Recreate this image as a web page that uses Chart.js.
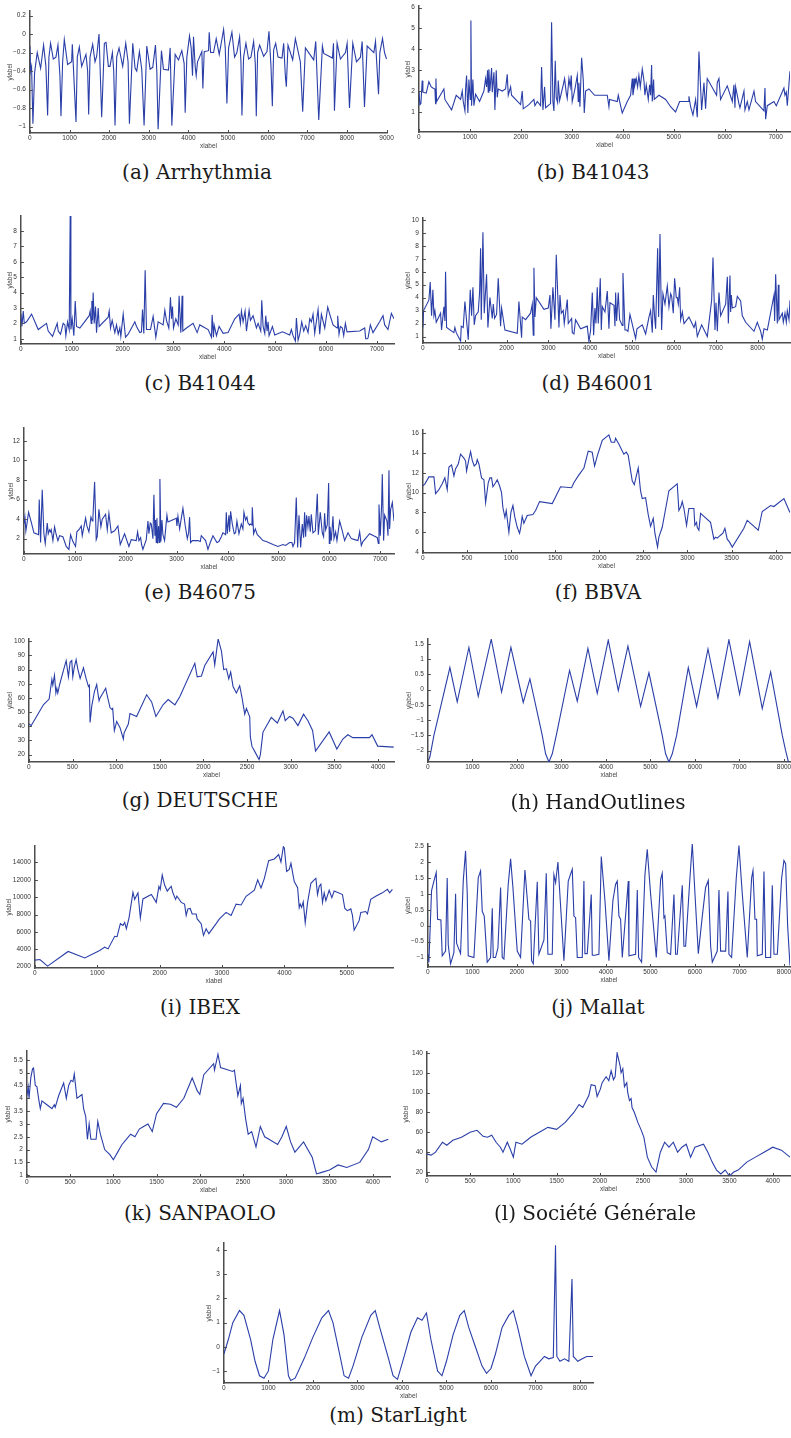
<!DOCTYPE html>
<html><head><meta charset="utf-8">
<script src="https://cdn.jsdelivr.net/npm/chart.js@4.4.1/dist/chart.umd.min.js"></script>
<style>
html,body{margin:0;padding:0;background:#fff;}
#page{position:relative;width:791px;height:1438px;overflow:hidden;background:#fff;}
canvas{position:absolute;}
.cap{position:absolute;font-family:"DejaVu Serif",serif;font-size:20px;color:#1a1a1a;white-space:nowrap;transform:translate(-50%,-50%);}
</style></head>
<body><div id="page"></div>
<script>
// ---------------- DATA ----------------
const arrhythmia = [[0,-0.13],[17,-0.40],[42,-0.35],[76,-0.97],[118,-0.42],[185,-0.20],[270,-0.37],[345,-0.12],[404,-0.35],[447,-0.88],[480,-0.25],[522,-0.10],[590,-0.27],[657,-0.25],[708,-0.12],[758,-0.45],[784,-0.89],[826,-0.30],[868,-0.06],[952,-0.33],[1053,-0.30],[1070,-0.11],[1163,-0.95],[1196,-0.25],[1247,-0.14],[1306,-0.35],[1415,-0.22],[1457,-0.40],[1483,-0.87],[1517,-0.25],[1584,-0.11],[1643,-0.30],[1685,-0.24],[1744,0.00],[1811,-0.90],[1879,-0.10],[1921,-0.09],[1980,-0.35],[2022,-0.35],[2081,-0.20],[2115,-0.40],[2148,-0.99],[2190,-0.25],[2249,-0.15],[2342,-0.35],[2418,-0.10],[2477,-0.30],[2511,-0.97],[2595,-0.10],[2654,-0.37],[2696,-0.40],[2763,-0.19],[2822,-0.38],[2881,-0.99],[2949,-0.13],[3033,-0.38],[3100,-0.36],[3168,-0.12],[3202,-0.40],[3235,-1.03],[3319,-0.18],[3370,-0.38],[3496,-0.39],[3539,-0.15],[3581,-0.99],[3665,-0.22],[3749,-0.28],[3833,-0.18],[3892,-0.32],[3918,-0.85],[3960,-0.25],[4027,-0.02],[4069,-0.15],[4103,-0.45],[4128,-0.03],[4170,-0.35],[4196,-0.45],[4229,-0.30],[4339,-0.19],[4364,-0.59],[4398,-0.19],[4507,-0.18],[4524,0.02],[4560,-0.20],[4634,-0.20],[4701,-0.05],[4777,-0.22],[4819,-0.12],[4887,0.05],[4929,-0.15],[4971,-0.75],[5013,-0.15],[5097,0.02],[5164,-0.25],[5223,-0.20],[5291,-0.03],[5325,-0.30],[5350,-0.88],[5392,-0.25],[5451,-0.10],[5518,-0.27],[5577,-0.25],[5645,-0.08],[5687,-0.32],[5712,-0.89],[5746,-0.20],[5796,-0.12],[5898,-0.24],[5982,-0.19],[6032,0.03],[6083,-0.35],[6117,-0.78],[6150,-0.17],[6201,-0.10],[6260,-0.25],[6361,-0.26],[6403,-0.10],[6445,-0.45],[6470,-0.57],[6512,-0.12],[6630,-0.28],[6698,-0.05],[6824,-0.30],[6883,-0.84],[6951,-0.15],[7161,-0.28],[7212,-0.08],[7288,-0.93],[7380,-0.13],[7414,-0.21],[7633,-0.26],[7660,-0.10],[7684,-0.83],[7751,-0.10],[7835,-0.27],[7962,-0.20],[8004,-0.10],[8063,-0.80],[8147,-0.10],[8240,-0.30],[8341,-0.25],[8383,-0.08],[8442,-0.79],[8509,-0.13],[8678,-0.20],[8720,-0.08],[8796,-0.65],[8829,-0.20],[8897,-0.05],[8947,-0.20],[8998,-0.27]];

const b41043 = [[0,2.0],[20,1.35],[39,1.4],[65,2.5],[78,1.95],[144,1.9],[196,2.45],[242,2.2],[275,2.15],[314,2.1],[327,1.4],[334,2.6],[347,1.5],[491,2.1],[510,1.6],[641,1.1],[732,1.8],[818,1.6],[850,2.0],[870,1.5],[903,1.05],[916,2.1],[935,2.75],[961,0.95],[981,2.55],[1007,1.6],[1020,5.38],[1033,1.3],[1059,2.55],[1079,1.3],[1112,1.85],[1190,1.5],[1275,2.0],[1308,2.6],[1328,2.2],[1347,3.0],[1360,1.95],[1373,3.05],[1393,2.0],[1426,3.1],[1439,1.95],[1472,2.9],[1491,1.1],[1517,3.0],[1537,1.7],[1557,2.1],[1635,2.0],[1700,2.1],[1733,2.8],[1753,1.8],[1799,2.2],[1818,1.8],[1995,1.35],[2027,2.0],[2047,1.15],[2158,1.35],[2256,1.6],[2276,1.3],[2322,1.5],[2387,1.3],[2407,3.15],[2433,1.1],[2466,2.2],[2485,1.2],[2583,1.4],[2603,5.3],[2629,1.5],[2649,1.05],[2675,3.45],[2694,1.7],[2721,1.45],[2734,2.5],[2760,1.55],[2832,2.3],[2858,2.6],[2891,1.9],[2910,1.65],[2943,2.6],[2969,2.2],[2989,2.75],[3008,1.5],[3061,2.1],[3107,2.75],[3126,1.5],[3139,2.4],[3159,1.25],[3192,3.6],[3224,2.55],[3244,0.95],[3270,2.0],[3335,2.1],[3447,1.8],[3695,1.8],[3728,1.25],[3741,1.6],[3891,1.5],[3911,1.8],[3989,0.95],[4088,1.5],[4153,1.8],[4186,2.6],[4199,1.8],[4212,2.0],[4225,2.6],[4238,2.3],[4264,2.6],[4290,2.2],[4316,2.75],[4343,2.2],[4382,3.05],[4415,2.5],[4434,1.8],[4460,2.3],[4500,1.6],[4526,2.3],[4545,1.8],[4565,3.25],[4578,1.5],[4604,2.55],[4617,1.6],[4709,1.8],[4840,1.6],[4938,1.25],[5036,1.0],[5114,1.5],[5284,1.5],[5297,1.75],[5330,1.25],[5376,0.85],[5428,1.6],[5461,0.75],[5494,3.9],[5546,1.1],[5592,2.4],[5624,1.15],[5657,2.6],[5840,1.8],[5853,2.4],[5886,2.6],[5918,1.6],[6049,2.25],[6148,1.5],[6180,2.3],[6200,1.2],[6213,2.2],[6278,1.4],[6298,1.2],[6377,2.0],[6396,1.1],[6442,1.5],[6475,1.1],[6573,2.0],[6605,1.5],[6769,1.05],[6789,2.15],[6802,0.65],[6834,1.3],[6965,1.5],[7011,1.3],[7161,2.15],[7181,1.8],[7207,1.95],[7227,1.3],[7279,2.95]];

const b41044 = [[0,2.6],[20,1.8],[46,2.8],[66,2.0],[111,2.1],[210,2.6],[341,1.6],[504,2.0],[537,1.5],[622,1.15],[714,2.0],[734,1.5],[779,1.3],[832,2.0],[865,1.9],[884,1.2],[917,2.1],[950,1.6],[969,8.98],[983,1.6],[1009,2.3],[1041,1.2],[1068,3.45],[1094,1.8],[1159,1.7],[1343,2.5],[1362,2.8],[1382,2.0],[1395,3.45],[1408,2.2],[1421,4.0],[1441,2.0],[1467,3.1],[1487,1.4],[1520,3.0],[1539,1.8],[1716,2.4],[1736,2.8],[1762,1.7],[1795,2.2],[1814,1.9],[1847,1.4],[1880,1.9],[1913,1.3],[1945,1.7],[1965,1.15],[2011,2.6],[2057,1.1],[2109,1.3],[2207,1.9],[2240,2.1],[2273,1.8],[2338,1.4],[2371,1.45],[2391,2.9],[2417,1.35],[2443,5.45],[2469,1.6],[2548,1.6],[2600,2.45],[2653,1.1],[2699,2.1],[2797,1.9],[2830,2.85],[2862,2.2],[2908,1.7],[2941,3.7],[2961,2.3],[2980,3.1],[3000,1.7],[3046,2.3],[3092,1.9],[3111,3.8],[3144,1.4],[3170,3.8],[3183,1.5],[3236,1.65],[3386,2.0],[3465,1.4],[3517,1.9],[3681,1.6],[3747,1.1],[3760,2.55],[3786,1.1],[3799,1.9],[3845,1.2],[3897,1.8],[3976,1.35],[4074,1.4],[4205,2.3],[4290,2.6],[4316,2.0],[4336,2.8],[4369,2.1],[4408,2.8],[4435,1.5],[4487,2.85],[4513,2.2],[4565,2.5],[4631,1.7],[4664,2.0],[4716,1.5],[4736,3.5],[4762,1.8],[4795,1.35],[4814,2.5],[4840,1.5],[4860,2.1],[4880,1.2],[4945,1.8],[4991,1.25],[5142,1.45],[5286,1.25],[5318,1.6],[5351,1.2],[5397,0.85],[5417,2.35],[5450,0.9],[5482,1.3],[5522,2.1],[5561,1.5],[5600,1.85],[5646,1.4],[5679,2.3],[5712,2.1],[5744,2.6],[5777,1.35],[5843,2.9],[5875,1.3],[5908,2.6],[5974,1.7],[6033,3.05],[6072,2.6],[6137,1.9],[6216,1.7],[6229,2.5],[6255,1.3],[6281,1.8],[6321,1.7],[6347,1.2],[6380,2.0],[6412,1.45],[6661,1.5],[6760,1.7],[6779,1.0],[6812,1.0],[6825,1.05],[6871,1.9],[6923,1.4],[7054,2.1],[7120,2.5],[7153,1.9],[7218,1.6],[7284,2.65],[7336,2.3]];

const b46001 = [[0,1.7],[16,3.0],[143,3.8],[175,5.2],[207,2.6],[239,4.6],[263,2.6],[287,3.0],[319,2.1],[422,2.8],[446,1.5],[502,3.3],[526,2.2],[542,6.0],[566,1.7],[741,1.3],[765,1.7],[797,1.3],[901,0.65],[917,1.8],[964,1.7],[1004,3.7],[1084,0.75],[1132,4.6],[1164,2.6],[1196,4.8],[1227,1.9],[1259,2.6],[1323,2.9],[1355,4.4],[1379,7.8],[1395,2.3],[1435,9.05],[1466,2.8],[1522,5.8],[1554,1.7],[1602,4.0],[1658,2.4],[1682,3.5],[1714,2.4],[1761,2.7],[1801,5.5],[1857,1.8],[1881,3.2],[1961,1.5],[2256,1.25],[2295,3.7],[2359,0.9],[2375,2.5],[2455,2.3],[2574,2.8],[2614,3.5],[2638,1.1],[2654,6.3],[2678,2.5],[2710,4.0],[2893,3.1],[2997,3.2],[3037,4.2],[3060,1.6],[3108,4.8],[3156,2.3],[3188,7.3],[3252,1.7],[3276,4.2],[3308,2.8],[3355,3.0],[3379,2.0],[3451,3.85],[3475,2.0],[3555,2.4],[3571,1.3],[3610,1.2],[3650,2.3],[3770,1.6],[3929,1.8],[3969,0.6],[4009,1.5],[4049,4.4],[4081,1.1],[4112,3.2],[4136,2.0],[4168,4.8],[4192,2.0],[4240,5.5],[4264,1.5],[4288,3.3],[4352,2.9],[4408,4.5],[4447,1.6],[4471,3.6],[4567,3.4],[4591,1.8],[4607,4.4],[4631,2.2],[4670,4.4],[4702,2.3],[4766,1.85],[4782,5.9],[4830,1.5],[4870,1.5],[4902,1.4],[4949,2.7],[5085,0.85],[5117,1.6],[5244,1.9],[5324,1.2],[5404,2.5],[5443,3.0],[5483,1.3],[5507,4.2],[5539,2.5],[5563,1.6],[5611,7.8],[5635,2.5],[5667,8.9],[5706,1.5],[5738,4.3],[5786,3.5],[5842,4.9],[5882,3.3],[5922,4.3],[5946,4.1],[5985,2.8],[6017,5.5],[6057,4.0],[6081,4.0],[6105,3.5],[6137,4.8],[6161,2.3],[6201,2.9],[6241,2.0],[6360,2.5],[6480,1.7],[6519,2.1],[6559,1.0],[6663,1.9],[6798,1.0],[6902,3.8],[6934,7.1],[6982,1.5],[7006,3.6],[7038,1.4],[7077,4.4],[7117,2.6],[7237,3.5],[7277,5.6],[7301,2.0],[7340,5.7],[7356,2.9],[7372,4.2],[7396,3.2],[7476,3.3],[7516,4.1],[7595,3.75],[7635,2.6],[7715,2.1],[7914,1.4],[7994,2.1],[8074,1.4],[8113,0.8],[8153,1.6],[8233,1.5],[8392,4.2],[8408,2.2],[8432,5.8],[8472,2.0],[8496,5.0],[8512,2.3],[8592,2.8],[8615,2.1],[8655,2.8],[8687,2.1],[8711,3.0],[8751,2.3],[8775,3.8]];

const b46075 = [[0,3.5],[20,4.2],[39,2.8],[59,3.5],[92,4.7],[144,3.7],[197,2.6],[288,2.4],[301,6.0],[328,1.6],[360,7.0],[393,2.5],[419,1.5],[459,3.6],[478,2.5],[504,2.9],[524,2.7],[537,2.9],[570,1.8],[603,3.2],[635,2.4],[668,1.8],[701,2.3],[766,2.2],[832,1.2],[884,0.9],[917,2.4],[963,1.7],[1015,1.2],[1041,2.7],[1094,3.0],[1127,3.3],[1146,2.3],[1172,3.0],[1212,4.1],[1238,3.3],[1277,2.7],[1317,4.2],[1343,3.8],[1356,4.2],[1389,7.8],[1421,1.9],[1441,2.2],[1474,5.0],[1513,3.2],[1539,4.0],[1605,4.5],[1638,2.9],[1670,4.6],[1716,2.6],[1782,2.8],[1847,3.3],[1893,1.4],[1978,2.5],[2063,1.2],[2109,1.9],[2207,1.8],[2234,2.7],[2260,1.8],[2293,2.1],[2312,1.4],[2338,0.9],[2404,1.9],[2437,3.8],[2456,2.5],[2482,3.6],[2502,3.5],[2535,2.0],[2554,6.5],[2574,2.3],[2587,3.9],[2600,1.6],[2613,4.1],[2627,1.5],[2646,3.3],[2659,1.6],[2672,8.1],[2692,1.7],[2712,3.9],[2731,2.4],[2764,1.8],[2810,4.4],[2830,3.7],[2961,4.0],[2993,4.1],[3006,3.3],[3026,4.3],[3059,3.0],[3124,5.1],[3170,3.3],[3210,2.0],[3236,2.6],[3255,4.2],[3275,1.6],[3308,1.8],[3419,1.8],[3465,1.7],[3485,2.3],[3570,1.8],[3616,0.9],[3661,1.6],[3714,2.3],[3792,1.6],[3832,1.7],[3878,2.2],[3910,2.6],[3963,2.4],[3976,4.7],[3996,2.5],[4028,4.4],[4041,2.7],[4061,4.8],[4094,3.5],[4133,2.5],[4159,2.6],[4185,3.8],[4225,2.5],[4271,3.5],[4303,3.0],[4323,4.7],[4356,3.9],[4382,4.2],[4402,3.6],[4434,3.4],[4447,3.5],[4480,3.4],[4487,5.2],[4513,2.5],[4546,3.0],[4585,2.4],[4644,2.1],[4696,1.8],[4762,1.7],[4893,1.4],[4991,1.2],[5089,1.4],[5142,1.3],[5220,1.6],[5266,1.6],[5286,1.2],[5318,1.6],[5351,6.2],[5378,1.1],[5404,4.4],[5437,1.1],[5469,3.5],[5495,2.1],[5515,4.7],[5535,2.2],[5554,4.4],[5580,3.2],[5600,4.3],[5626,2.7],[5646,4.5],[5679,2.6],[5725,2.8],[5764,6.6],[5784,2.4],[5823,4.7],[5862,2.6],[5888,2.2],[5908,4.6],[5928,2.9],[5960,3.4],[5987,7.7],[6000,1.5],[6013,3.2],[6039,1.8],[6072,4.3],[6092,2.0],[6124,2.7],[6150,1.8],[6203,3.8],[6255,2.8],[6301,1.8],[6367,2.6],[6432,2.0],[6498,1.9],[6563,1.8],[6596,2.7],[6629,1.3],[6661,1.7],[6792,2.5],[6910,2.2],[6943,2.1],[6963,1.5],[6976,5.5],[7002,2.3],[7028,5.5],[7041,8.6],[7067,1.8],[7087,4.4],[7133,3.8],[7153,2.3],[7172,9.0],[7185,3.0],[7205,5.0],[7238,5.7],[7271,3.8]];

const bbva = [[0,10.7],[23,10.9],[68,11.6],[125,11.6],[144,9.9],[181,10.3],[219,10.9],[249,11.5],[276,10.3],[295,12.6],[325,12.8],[352,11.7],[370,12.4],[401,12.9],[427,13.9],[465,13.5],[484,13.2],[495,12.2],[522,13.4],[541,14.15],[559,13.3],[582,12.7],[605,12.9],[616,13.35],[635,12.9],[665,11.5],[692,11.3],[711,9.0],[741,11.0],[760,11.5],[779,11.5],[794,10.6],[824,11.0],[843,11.3],[869,10.7],[892,10.0],[907,8.5],[930,7.5],[945,8.2],[975,6.0],[998,8.0],[1021,8.7],[1043,7.5],[1070,6.5],[1096,5.9],[1108,6.4],[1126,7.6],[1145,6.9],[1183,7.7],[1247,7.8],[1278,8.2],[1323,9.1],[1467,8.9],[1561,10.6],[1686,10.5],[1712,11.0],[1769,11.8],[1826,12.5],[1875,14.2],[1920,14.1],[1947,12.7],[1977,13.7],[2034,15.3],[2109,15.85],[2136,15.1],[2174,15.1],[2185,15.5],[2223,14.9],[2279,13.9],[2306,14.1],[2328,13.8],[2374,11.2],[2397,10.8],[2423,11.8],[2442,12.5],[2468,10.2],[2487,9.4],[2525,9.5],[2555,7.8],[2582,6.6],[2612,7.4],[2631,5.9],[2661,4.5],[2676,5.5],[2714,6.5],[2790,10.2],[2884,10.9],[2903,8.2],[2926,8.6],[2941,9.1],[2960,8.4],[2990,6.7],[3016,8.4],[3073,8.4],[3084,6.7],[3103,7.0],[3111,6.5],[3130,6.2],[3149,7.9],[3262,7.0],[3300,5.3],[3319,5.5],[3338,5.4],[3375,5.7],[3402,5.9],[3425,6.4],[3451,5.3],[3478,5.0],[3508,4.5],[3640,6.4],[3678,7.2],[3803,6.2],[3848,8.1],[3943,8.7],[3980,8.6],[4094,9.4],[4162,8.0]];

const deutsche = [[0,41.6],[27,40.5],[91,47.3],[168,55.3],[232,59.2],[263,73],[274,69],[293,76],[309,63.4],[320,66.8],[331,63.4],[351,69.1],[396,79.4],[427,86.3],[453,74.8],[472,85.1],[491,86.3],[503,74.8],[518,81],[541,87],[560,80.5],[587,73.7],[625,81.2],[655,73.7],[682,68],[693,69],[701,42.7],[720,54.2],[751,64.5],[777,69.5],[785,65.7],[804,58],[815,60],[880,66.8],[891,63.4],[930,53],[949,52],[960,52.6],[979,36.9],[1006,43.4],[1044,39],[1082,31],[1090,35.2],[1139,41.6],[1158,49],[1234,46.9],[1349,62.2],[1406,57.2],[1455,46.9],[1539,55.3],[1596,58.8],[1673,55.1],[1730,61],[1901,84.4],[1928,74.8],[1977,75.5],[2015,82.8],[2110,92.4],[2129,83.3],[2168,101.6],[2206,93],[2232,80],[2263,80.5],[2290,73.4],[2312,78.2],[2339,68],[2377,63.4],[2415,68.6],[2442,60],[2473,48.5],[2492,52.6],[2530,46.6],[2537,32.5],[2556,25.8],[2587,22.3],[2637,16.5],[2652,20],[2682,35.9],[2777,46.2],[2846,42.3],[2911,50.8],[2937,43.9],[2987,46.9],[3025,45.7],[3082,40.5],[3147,48.5],[3197,43.9],[3250,37],[3284,22.5],[3440,36],[3528,24],[3597,31],[3654,34],[3711,32],[3901,32],[3931,34],[3996,26],[4180,25.3]];

const handOutlines = [[0,-2.37],[45,-2.2],[135,-1.5],[494,0.72],[659,-0.4],[921,1.38],[1131,-0.22],[1423,1.65],[1655,-0.08],[1865,1.38],[2142,-0.42],[2292,0.35],[2569,-1.5],[2644,-2.1],[2719,-2.37],[2794,-2.1],[2884,-1.5],[3183,0.63],[3356,-0.38],[3595,1.35],[3805,-0.12],[4052,1.62],[4277,-0.03],[4494,1.42],[4779,-0.55],[4966,0.55],[5265,-1.5],[5340,-2.1],[5415,-2.37],[5490,-2.1],[5588,-1.5],[5850,0.72],[6037,-0.55],[6292,1.33],[6516,-0.27],[6763,1.63],[7003,-0.15],[7228,1.57],[7512,-0.62],[7700,0.58],[7962,-1.5],[8037,-2.0],[8100,-2.37]];

const ibex = [[0,2750],[80,2820],[203,2070],[533,3750],[800,3000],[1039,3870],[1119,4250],[1173,4050],[1279,5500],[1317,5450],[1370,6950],[1412,6750],[1439,7100],[1466,6370],[1508,7600],[1572,10550],[1599,9750],[1652,10500],[1690,7600],[1732,9800],[1866,10300],[1945,9400],[1988,11250],[2009,10900],[2041,12550],[2079,11400],[2121,10700],[2159,11050],[2185,11250],[2212,10500],[2255,9750],[2276,10130],[2345,9400],[2399,9200],[2425,7900],[2452,8650],[2489,8700],[2521,8070],[2585,8070],[2601,7500],[2665,6950],[2702,5600],[2745,6370],[2788,5800],[2905,6950],[2958,7500],[3065,8250],[3145,7900],[3225,9200],[3305,9100],[3385,10100],[3518,10800],[3571,12000],[3624,11050],[3678,12170],[3747,14200],[3838,14400],[3907,14900],[3944,14050],[3982,15800],[3998,15650],[4035,12950],[4077,13200],[4104,13900],[4157,11800],[4211,11100],[4237,8800],[4253,9200],[4275,8820],[4301,9450],[4333,7050],[4371,9400],[4424,11600],[4477,12000],[4504,12170],[4530,10300],[4557,11250],[4584,11500],[4610,9400],[4637,10500],[4664,9600],[4717,10800],[4760,9950],[4797,10700],[4930,10300],[4968,8700],[5010,8450],[5064,8650],[5090,7900],[5117,6200],[5197,7300],[5224,8250],[5303,8350],[5330,8070],[5383,9750],[5463,10100],[5570,10500],[5650,10900],[5687,10500],[5730,10900]];

const mallat = [[0,-0.9],[22,-1.15],[82,1.1],[135,1.4],[187,1.67],[217,0.2],[292,0.18],[322,-0.95],[397,-0.8],[434,1.5],[457,-0.6],[509,-1.2],[584,-0.85],[622,1.0],[644,-0.55],[734,-0.88],[794,1.4],[846,2.35],[884,1.0],[906,-0.95],[1034,-1.0],[1131,1.5],[1183,1.72],[1221,0.45],[1266,0.3],[1333,-1.15],[1408,-1.0],[1446,0.55],[1468,-1.0],[1520,-1.0],[1573,-0.7],[1633,1.2],[1670,-1.0],[1708,-1.05],[1805,1.3],[1858,2.1],[1910,1.2],[2007,-0.8],[2082,-1.0],[2180,1.75],[2269,0.2],[2307,0.15],[2329,-1.1],[2367,-1.2],[2457,1.38],[2494,-0.9],[2607,-0.45],[2659,1.65],[2696,-0.9],[2794,-0.9],[2831,1.6],[2869,1.35],[2921,2.0],[3056,-1.1],[3153,1.4],[3243,1.77],[3281,0.3],[3318,0.25],[3356,-1.0],[3468,-1.0],[3505,1.4],[3528,-0.88],[3580,-0.88],[3670,0.98],[3693,-0.93],[3745,-0.93],[3842,-0.9],[3895,2.17],[3977,0.8],[4067,-1.1],[4157,0.8],[4217,1.3],[4254,1.4],[4292,0.3],[4329,0.2],[4367,-1.0],[4502,1.4],[4517,-0.95],[4666,-0.9],[4704,1.12],[4734,-1.0],[4801,-1.15],[4876,1.6],[4928,2.4],[5003,1.0],[5131,-1.0],[5228,1.45],[5265,1.65],[5303,0.25],[5325,0.3],[5378,-0.85],[5453,-0.9],[5528,0.98],[5565,-0.9],[5603,-0.9],[5715,1.27],[5752,-0.65],[5790,-0.65],[5887,1.5],[5940,2.58],[6000,1.0],[6075,-0.88],[6165,0.3],[6239,1.2],[6299,1.42],[6352,-0.65],[6389,-1.15],[6501,-0.8],[6539,1.12],[6576,-0.8],[6689,-0.8],[6741,1.07],[6763,-0.9],[6823,-1.0],[6928,1.5],[6988,2.52],[7063,1.0],[7175,-1.0],[7273,1.5],[7303,1.73],[7348,0.2],[7385,0.2],[7400,-0.95],[7512,-0.9],[7550,1.7],[7587,-1.0],[7700,-1.0],[7737,1.27],[7775,-0.9],[7850,-0.9],[7947,1.5],[7999,2.05],[8037,1.95],[8082,0.0],[8134,-1.25]];

const sanpaolo = [[0,4.1],[15,4.45],[25,4.0],[45,4.8],[65,5.15],[77,5.18],[97,4.5],[116,4.45],[135,4.0],[155,3.6],[174,3.9],[212,3.8],[251,3.7],[290,3.6],[317,3.75],[328,3.65],[367,4.1],[425,4.6],[456,4.0],[483,4.5],[510,4.7],[533,4.65],[548,4.95],[579,4.0],[618,4.1],[637,4.15],[656,3.6],[680,3.3],[700,2.4],[720,3.0],[740,2.4],[800,2.4],[820,3.1],[850,2.6],[900,2.0],[960,1.8],[1000,1.6],[1050,1.9],[1100,2.2],[1150,2.4],[1200,2.6],[1250,2.5],[1300,2.8],[1350,2.9],[1400,3.0],[1450,2.7],[1500,3.4],[1580,3.8],[1661,3.77],[1730,3.65],[1815,4.0],[1912,4.79],[1970,4.3],[2000,4.15],[2046,4.92],[2160,5.35],[2170,5.1],[2210,5.72],[2240,5.2],[2380,5.05],[2400,5.1],[2440,4.1],[2470,4.5],[2480,3.8],[2500,4.0],[2530,3.2],[2560,2.6],[2600,2.7],[2650,2.1],[2700,2.9],[2750,2.5],[2800,2.4],[2900,2.2],[2950,2.5],[3000,2.9],[3050,2.3],[3100,1.9],[3200,2.3],[3300,1.7],[3350,1.05],[3400,1.1],[3500,1.2],[3600,1.4],[3700,1.3],[3850,1.5],[3950,2.0],[4000,2.5],[4100,2.3],[4180,2.4]];

const societe = [[0,38],[50,37],[100,40],[180,50],[230,47],[300,52],[400,55],[500,60],[580,62],[650,56],[700,55],[750,57],[800,50],[850,45],[880,40],[930,50],[960,44],[1000,35],[1030,50],[1100,48],[1200,55],[1300,60],[1400,65],[1500,63],[1600,70],[1700,80],[1760,88],[1803,85],[1873,97],[1900,108],[1946,107],[1969,96],[2004,103],[2027,110],[2073,116],[2104,112],[2131,122],[2158,113],[2177,116],[2200,140],[2235,127],[2246,120],[2266,124],[2285,106],[2312,110],[2323,100],[2343,92],[2362,94],[2373,85],[2400,80],[2440,70],[2480,62],[2510,55],[2550,35],[2600,25],[2650,20],[2700,40],[2750,50],[2800,45],[2850,50],[2900,40],[2950,45],[3000,48],[3050,35],[3100,45],[3200,48],[3250,40],[3300,30],[3350,22],[3400,18],[3450,22],[3500,16],[3550,20],[3600,22],[3700,30],[3800,35],[3900,40],[4000,45],[4100,42],[4200,35]];

const starLight = [[0,-0.3],[100,0.3],[200,1.0],[350,1.5],[450,1.3],[600,0.3],[700,-0.6],[800,-1.2],[900,-1.3],[1000,-1.0],[1100,0.3],[1250,1.5],[1350,0.5],[1450,-1.2],[1500,-1.4],[1600,-1.3],[1800,-0.5],[2000,0.4],[2200,1.2],[2350,1.5],[2450,1.0],[2600,-0.3],[2700,-1.2],[2800,-1.3],[2900,-0.8],[3100,0.4],[3300,1.3],[3400,1.5],[3500,0.8],[3700,-0.5],[3800,-1.2],[3900,-1.35],[4050,-0.4],[4200,0.6],[4350,1.2],[4450,1.1],[4550,1.4],[4650,0.3],[4800,-1.0],[4900,-1.2],[5000,-0.6],[5150,0.5],[5300,1.3],[5400,1.5],[5500,0.8],[5650,0.0],[5800,-0.8],[5900,-1.1],[6000,-0.9],[6100,-0.3],[6250,0.8],[6400,1.3],[6500,1.5],[6600,0.8],[6750,-0.4],[6900,-1.2],[7000,-0.8],[7100,-0.6],[7200,-0.4],[7300,-0.5],[7400,-0.45],[7450,4.2],[7480,-0.4],[7550,-0.6],[7650,-0.5],[7750,-0.6],[7820,2.8],[7850,-0.4],[7950,-0.6],[8050,-0.5],[8150,-0.4],[8290,-0.4]];

// tick values
const ticksArrhythmiaY = [-1,-0.8,-0.6,-0.4,-0.2,0,0.2];
const ticks0to9000 = [0,1000,2000,3000,4000,5000,6000,7000,8000,9000];
const ticks0to7000 = [0,1000,2000,3000,4000,5000,6000,7000];
const ticks0to8000 = [0,1000,2000,3000,4000,5000,6000,7000,8000];
const ticks0to5000 = [0,1000,2000,3000,4000,5000];
const ticks0to4000 = [0,500,1000,1500,2000,2500,3000,3500,4000];
const ticksB41043Y = [1,2,3,4,5,6];
const ticksB41044Y = [1,2,3,4,5,6,7,8];
const ticksB46001Y = [1,2,3,4,5,6,7,8,9,10];
const ticksB46075Y = [2,4,6,8,10,12];
const ticksBBVAY = [4,6,8,10,12,14,16];
const ticksDeutscheY = [20,30,40,50,60,70,80,90,100];
const ticksHandY = [-2,-1.5,-1,-0.5,0,0.5,1,1.5];
const ticksIbexY = [2000,4000,6000,8000,10000,12000,14000];
const ticksMallatY = [-1,-0.5,0,0.5,1,1.5,2,2.5];
const ticksSanpaoloY = [1,1.5,2,2.5,3,3.5,4,4.5,5,5.5];
const ticksSocieteY = [20,40,60,80,100,120,140];
const ticksStarY = [-1,0,1,2,3,4];

const captions = ["(a) Arrhythmia","(b) B41043","(c) B41044","(d) B46001","(e) B46075","(f) BBVA","(g) DEUTSCHE","(h) HandOutlines","(i) IBEX","(j) Mallat","(k) SANPAOLO","(l) Société Générale","(m) StarLight"];

// ---------------- LAYOUT ----------------
const panels = [
 {pts:arrhythmia, xt:ticks0to9000, yt:ticksArrhythmiaY, xmax:9010, ymin:-1.07, ymax:0.25, L:30, R:387, T:8, B:133, yc:10, cx:197, cy:172},
 {pts:b41043, xt:ticks0to7000, yt:ticksB41043Y, xmax:7280, ymin:0.04, ymax:6.08, L:419, R:790, T:3, B:132, yc:408, cx:593, cy:172},
 {pts:b41044, xt:ticks0to7000, yt:ticksB41044Y, xmax:7336, ymin:0.66, ymax:8.98, L:21, R:394, T:213, B:344, yc:10, cx:200, cy:383},
 {pts:b46001, xt:ticks0to8000, yt:ticksB46001Y, xmax:8775, ymin:0.5, ymax:10.15, L:423, R:790, T:215, B:343, yc:408, cx:598, cy:383},
 {pts:b46075, xt:ticks0to7000, yt:ticksB46075Y, xmax:7271, ymin:0.43, ymax:13.33, L:24, R:394, T:425, B:554, yc:11, cx:200, cy:592},
 {pts:bbva, xt:ticks0to4000, yt:ticksBBVAY, xmax:4163, ymin:3.9, ymax:16.35, L:423, R:790, T:427, B:553, yc:409, cx:598, cy:592},
 {pts:deutsche, xt:ticks0to4000, yt:ticksDeutscheY, xmax:4183, ymin:14.8, ymax:101.6, L:29, R:394, T:636, B:762, yc:10, cx:200, cy:800},
 {pts:handOutlines, xt:ticks0to8000, yt:ticksHandY, xmax:8135, ymin:-2.37, ymax:1.66, L:428, R:790, T:636, B:762, yc:409, cx:598, cy:802},
 {pts:ibex, xt:ticks0to5000, yt:ticksIbexY, xmax:5740, ymin:1850, ymax:15900, L:35, R:393, T:843, B:968, yc:9, cx:200, cy:1007},
 {pts:mallat, xt:ticks0to8000, yt:ticksMallatY, xmax:8135, ymin:-1.3, ymax:2.57, L:428, R:790, T:841, B:967, yc:408, cx:598, cy:1007},
 {pts:sanpaolo, xt:ticks0to4000, yt:ticksSanpaoloY, xmax:4200, ymin:0.93, ymax:5.85, L:27, R:390, T:1048, B:1177, yc:8, cx:200, cy:1213},
 {pts:societe, xt:ticks0to4000, yt:ticksSocieteY, xmax:4200, ymin:16, ymax:141, L:427, R:790, T:1049, B:1176, yc:406, cx:595, cy:1213},
 {pts:starLight, xt:ticks0to8000, yt:ticksStarY, xmax:8292, ymin:-1.5, ymax:4.3, L:224, R:593, T:1240, B:1383, yc:209, cx:398, cy:1415}
];

const LINE = '#2a3ea8', AXIS = '#4d4d4d', TXT = '#333';
const FS = 6.5, PADT = 5, PADR = 14, XH = 17;
const tickFont = {family:'"Liberation Sans", Arial, Helvetica, sans-serif', size:FS};
const fmt = v => { const s = String(Math.round(v*1000)/1000); return v < 0 ? '\u2212' + s.slice(1) : s; };

const inwardTicks = {
  id:'inwardTicks',
  afterDraw(chart){
    const {ctx, chartArea:a, scales:{x, y}} = chart;
    ctx.save(); ctx.strokeStyle = AXIS; ctx.lineWidth = 1;
    x.ticks.forEach(t=>{ const p = Math.round(x.getPixelForValue(t.value))+0.5; ctx.beginPath(); ctx.moveTo(p, a.bottom); ctx.lineTo(p, a.bottom-3); ctx.stroke(); });
    y.ticks.forEach(t=>{ const p = Math.round(y.getPixelForValue(t.value))+0.5; ctx.beginPath(); ctx.moveTo(a.left, p); ctx.lineTo(a.left+3, p); ctx.stroke(); });
    ctx.restore();
  }
};

const page = document.getElementById('page');
panels.forEach((p, idx) => {
  const cl = p.yc - 3.9;
  const W = p.L - cl;
  const cv = document.createElement('canvas');
  const cw = Math.round(W + (p.R - p.L) + PADR), ch = PADT + (p.B - p.T) + XH;
  cv.width = cw; cv.height = ch;
  cv.style.left = cl + 'px'; cv.style.top = (p.T - PADT) + 'px';
  cv.style.width = cw + 'px'; cv.style.height = ch + 'px';
  page.appendChild(cv);
  new Chart(cv.getContext('2d'), {
    type:'line',
    data:{datasets:[{data:p.pts.map(([x,y])=>({x,y})), borderColor:LINE, borderWidth:1.1, pointRadius:0, tension:0, fill:false}]},
    options:{
      responsive:false, animation:false, devicePixelRatio:1,
      layout:{padding:{left:0, top:PADT, right:PADR, bottom:0}},
      plugins:{legend:{display:false}, tooltip:{enabled:false}},
      scales:{
        x:{type:'linear', min:0, max:p.xmax,
           afterBuildTicks:s=>{ s.ticks = p.xt.map(v=>({value:v})); },
           afterFit:s=>{ s.height = XH; },
           ticks:{autoSkip:false, maxRotation:0, minRotation:0, padding:1, font:tickFont, color:TXT, callback:v=>fmt(v)},
           grid:{drawOnChartArea:false, drawTicks:false},
           border:{display:true, color:AXIS, width:1.5},
           title:{display:true, text:'xlabel', font:tickFont, color:'#444', padding:0}},
        y:{type:'linear', min:p.ymin, max:p.ymax,
           afterBuildTicks:s=>{ s.ticks = p.yt.map(v=>({value:v})); },
           afterFit:s=>{ s.width = W; },
           ticks:{autoSkip:false, padding:4, font:tickFont, color:TXT, callback:v=>fmt(v)},
           grid:{drawOnChartArea:false, drawTicks:false},
           border:{display:true, color:AXIS, width:1.5},
           title:{display:true, text:'ylabel', font:tickFont, color:'#444', padding:0}}
      }
    },
    plugins:[inwardTicks]
  });
  const c = document.createElement('div');
  c.className = 'cap'; c.textContent = captions[idx];
  c.style.left = p.cx + 'px'; c.style.top = p.cy + 'px';
  page.appendChild(c);
});
</script>
</body></html>
